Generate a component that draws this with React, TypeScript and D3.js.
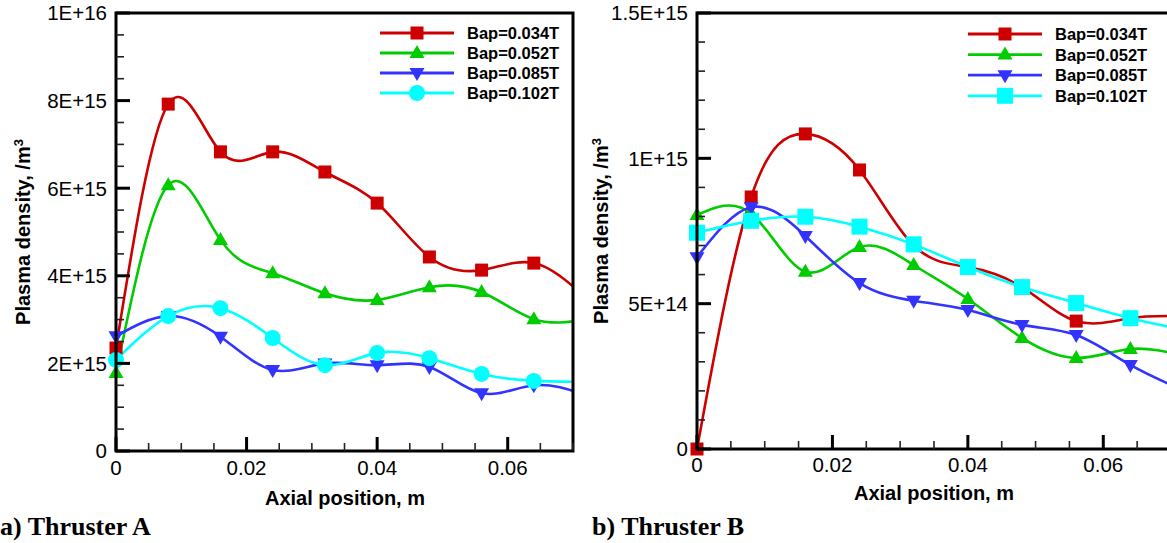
import React from 'react';
import * as d3 from 'd3';

// axial stations, m (last one sits just past the frame and gets clipped)
const axialPos = [0, 0.008, 0.016, 0.024, 0.032, 0.04, 0.048, 0.056, 0.064, 0.072];

const fieldLabels = ['Bap=0.034T', 'Bap=0.052T', 'Bap=0.085T', 'Bap=0.102T'];
const seriesColors = ['#cc0000', '#00cc00', '#3333ff', '#00ffff'];

// Thruster A densities, /m^3
const thrusterA034 = [2.35e15, 7.92e15, 6.83e15, 6.83e15, 6.37e15, 5.66e15, 4.43e15, 4.13e15, 4.29e15, 3.5e15];
const thrusterA052 = [1.78e15, 6.07e15, 4.82e15, 4.06e15, 3.6e15, 3.45e15, 3.74e15, 3.63e15, 3.01e15, 3.0e15];
const thrusterA085 = [2.62e15, 3.08e15, 2.61e15, 1.85e15, 2.0e15, 1.96e15, 1.92e15, 1.32e15, 1.5e15, 1.28e15];
const thrusterA102 = [2.08e15, 3.08e15, 3.26e15, 2.58e15, 1.96e15, 2.24e15, 2.12e15, 1.76e15, 1.6e15, 1.58e15];

// Thruster B densities, /m^3
const thrusterB034 = [0, 8.67e14, 1.084e15, 9.6e14, 7.0e14, 6.26e14, 5.57e14, 4.4e14, 4.5e14, 4.57e14];
const thrusterB052 = [8.05e14, 8.1e14, 6.1e14, 6.95e14, 6.33e14, 5.16e14, 3.82e14, 3.13e14, 3.44e14, 3.2e14];
const thrusterB085 = [6.6e14, 8.32e14, 7.33e14, 5.71e14, 5.1e14, 4.78e14, 4.27e14, 3.92e14, 2.89e14, 2.0e14];
const thrusterB102 = [7.44e14, 7.85e14, 7.99e14, 7.65e14, 7.04e14, 6.26e14, 5.57e14, 5.02e14, 4.5e14, 4.1e14];

const xTicks = [0, 0.02, 0.04, 0.06];
const xTickLabels = ['0', '0.02', '0.04', '0.06'];

const yTicksA = [0, 2e15, 4e15, 6e15, 8e15, 1e16];
const yTickLabelsA = ['0', '2E+15', '4E+15', '6E+15', '8E+15', '1E+16'];
const yTicksB = [0, 5e14, 1e15, 1.5e15];
const yTickLabelsB = ['0', '5E+14', '1E+15', '1.5E+15'];

const SANS = '"Liberation Sans", Arial, Helvetica, sans-serif';
const SERIF = '"Liberation Serif", "Times New Roman", serif';

type Marker = 'square' | 'up' | 'down' | 'circle' | 'bigsquare';

const MarkerShape = ({ kind, x, y, color }: { kind: Marker; x: number; y: number; color: string }) => {
  if (kind === 'square') return <rect x={x - 6.5} y={y - 6.5} width={13} height={13} fill={color} />;
  if (kind === 'bigsquare') return <rect x={x - 8} y={y - 8} width={16} height={16} fill={color} />;
  if (kind === 'circle') return <circle cx={x} cy={y} r={8} fill={color} />;
  if (kind === 'up') return <path d={`M${x},${y - 8}L${x + 7.5},${y + 5}L${x - 7.5},${y + 5}Z`} fill={color} />;
  return <path d={`M${x},${y + 8}L${x + 7.5},${y - 5}L${x - 7.5},${y - 5}Z`} fill={color} />;
};

type PanelProps = {
  id: string;
  left: number; top: number; right: number; bottom: number;
  yMax: number; yMinorStep: number;
  yTicks: number[]; yTickLabels: string[];
  series: number[][]; markers: Marker[];
  legendX: number; legendY: number; legendGap: number;
  yTitleX: number; xTitleY: number; xTitleX: number; tickLabelY: number;
  caption: string; captionX: number;
};

const Panel = (p: PanelProps) => {
  const x = d3.scaleLinear().domain([0, 0.07]).range([p.left, p.right]);
  const y = d3.scaleLinear().domain([0, p.yMax]).range([p.bottom, p.top]);
  const line = d3.line<number>()
    .x((_, i) => x(axialPos[i]))
    .y(d => y(d))
    .curve(d3.curveNatural);

  const xMinor = d3.range(0, 0.0701, 0.005).filter(v => !xTicks.some(t => Math.abs(t - v) < 1e-9));
  const yMinor = d3.range(0, p.yMax + 1, p.yMinorStep).filter(v => !p.yTicks.some(t => Math.abs(t - v) < p.yMinorStep / 10));

  return (
    <g>
      <defs>
        <clipPath id={`clip-${p.id}`}>
          <rect x={p.left} y={p.top} width={p.right - p.left} height={p.bottom - p.top} />
        </clipPath>
      </defs>

      <g clipPath={`url(#clip-${p.id})`}>
        {p.series.map((s, i) => (
          <path key={i} d={line(s) || ''} fill="none" stroke={seriesColors[i]} strokeWidth={2.6} />
        ))}
      </g>
      {p.series.map((s, i) => (
        <g key={i}>
          {s.map((v, j) => axialPos[j] <= 0.07 ? (
            <MarkerShape key={j} kind={p.markers[i]} x={x(axialPos[j])} y={y(v)} color={seriesColors[i]} />
          ) : null)}
        </g>
      ))}

      {/* frame */}
      <rect x={p.left} y={p.top} width={p.right - p.left} height={p.bottom - p.top} fill="none" stroke="#000" strokeWidth={3} />

      {/* x ticks */}
      {xTicks.map((t, i) => (
        <g key={i}>
          <line x1={x(t)} x2={x(t)} y1={p.bottom} y2={p.bottom - 14} stroke="#000" strokeWidth={3} />
          <text x={x(t)} y={p.tickLabelY} textAnchor="middle" fontFamily={SANS} fontSize={20.5}>{xTickLabels[i]}</text>
        </g>
      ))}
      {xMinor.map((t, i) => (
        <line key={i} x1={x(t)} x2={x(t)} y1={p.bottom} y2={p.bottom - 8} stroke="#222" strokeWidth={1.6} />
      ))}

      {/* y ticks */}
      {p.yTicks.map((t, i) => (
        <g key={i}>
          <line x1={p.left} x2={p.left + 14} y1={y(t)} y2={y(t)} stroke="#000" strokeWidth={3} />
          <text x={p.left - 9} y={y(t)} dy="0.36em" textAnchor="end" fontFamily={SANS} fontSize={20.5}>{p.yTickLabels[i]}</text>
        </g>
      ))}
      {yMinor.map((t, i) => (
        <line key={i} x1={p.left} x2={p.left + 8} y1={y(t)} y2={y(t)} stroke="#222" strokeWidth={1.6} />
      ))}

      {/* axis titles */}
      <text x={p.xTitleX} y={p.xTitleY} textAnchor="middle" fontFamily={SANS} fontWeight="bold" fontSize={20}>Axial position, m</text>
      <text transform={`translate(${p.yTitleX},${(p.top + p.bottom) / 2}) rotate(-90)`} textAnchor="middle"
        fontFamily={SANS} fontWeight="bold" fontSize={20}>
        Plasma density, /m<tspan dy="-0.55em" fontSize={13}>3</tspan>
      </text>

      {/* legend */}
      {fieldLabels.map((lab, i) => {
        const ly = p.legendY + i * p.legendGap;
        return (
          <g key={i}>
            <line x1={p.legendX} x2={p.legendX + 74} y1={ly} y2={ly} stroke={seriesColors[i]} strokeWidth={2.8} />
            <MarkerShape kind={p.markers[i]} x={p.legendX + 37} y={ly} color={seriesColors[i]} />
            <text x={p.legendX + 87} y={ly} dy="0.36em" fontFamily={SANS} fontWeight="bold" fontSize={16.5}>{lab}</text>
          </g>
        );
      })}

      <text x={p.captionX} y={535} fontFamily={SERIF} fontWeight="bold" fontSize={26}>{p.caption}</text>
    </g>
  );
};

export default function App() {
  return (
    <svg width={1167} height={543} style={{ position: 'absolute', left: 0, top: 0, background: '#fff' }}>
      <Panel id="a" left={116} top={13} right={573} bottom={451}
        yMax={1e16} yMinorStep={5e14} yTicks={yTicksA} yTickLabels={yTickLabelsA}
        series={[thrusterA034, thrusterA052, thrusterA085, thrusterA102]}
        markers={['square', 'up', 'down', 'circle']}
        legendX={380} legendY={33} legendGap={20}
        yTitleX={30} xTitleX={345} xTitleY={505} tickLabelY={475}
        caption="a) Thruster A" captionX={0} />
      <Panel id="b" left={697} top={13} right={1171} bottom={449}
        yMax={1.5e15} yMinorStep={1e14} yTicks={yTicksB} yTickLabels={yTickLabelsB}
        series={[thrusterB034, thrusterB052, thrusterB085, thrusterB102]}
        markers={['square', 'up', 'down', 'bigsquare']}
        legendX={968} legendY={34} legendGap={20.6}
        yTitleX={608} xTitleX={934} xTitleY={500} tickLabelY={472}
        caption="b) Thruster B" captionX={592} />
    </svg>
  );
}
